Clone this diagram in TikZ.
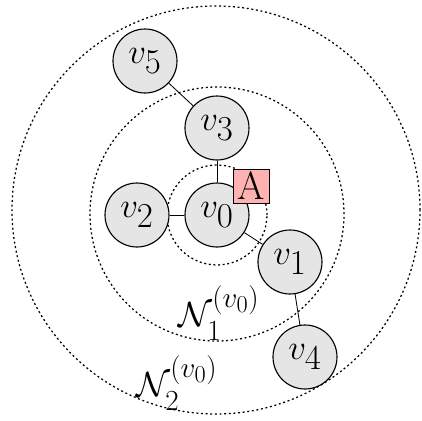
\documentclass[tikz,border=0pt]{standalone}
\usepackage{amsmath,amssymb,bm}
\usepackage{tikz}

\begin{document}
\begin{tikzpicture}[thick]
    \tikzstyle{vertex} = [circle, draw, fill=gray!20, minimum size=1.6cm, inner sep=0pt, text centered, font=\fontsize{34}{38}\selectfont]
    \tikzstyle{hood} = [line width=0.9pt, dash pattern=on 1.4pt off 1.9pt]
    \tikzstyle{agent} = [rectangle, draw, semithick, fill=red!30, minimum width=0.9cm, minimum height=0.85cm, inner sep=0pt, font=\fontsize{28}{32}\selectfont]
    \tikzstyle{link} = [semithick]
    \tikzstyle{hoodlabel} = [inner sep=0pt, font=\fontsize{32}{36}\selectfont]
    \useasboundingbox (-5.425,-5.15) rectangle (5.125,5.375);
    % neighbourhoods
    \draw[hood] (-0.025,0.125) circle (5.1cm);
    \draw[hood] (0,0.025) circle (3.175cm);
    \draw[hood] (0,0) circle (1.25cm);
    \node[vertex] (V0) at (0, 0) {$v_0$};
    \node[vertex] (V1) at (1.825, -1.175) {$v_1$};
    \node[vertex] (V2) at (-2.0, 0) {$v_2$};
    \node[vertex] (V3) at (0, 2.175) {$v_3$};
    \node[vertex] (V4) at (2.2, -3.55) {$v_4$};
    \node[vertex] (V5) at (-1.8, 3.85) {$v_5$};
    \draw[link] (V0) -- (V1);
    \draw[link] (V0) -- (V2);
    \draw[link] (V0) -- (V3);
    \draw[link] (V1) -- (V4);
    \draw[link] (V3) -- (V5);
    \node[agent] (A) at (0.85, 0.725) {A};
    \node[hoodlabel] (N1) at (0.05, -2.45) {$\mathcal{N}_1^{(v_0)}$};
    \node[hoodlabel] (N2) at (-1.0, -4.2) {$\mathcal{N}_2^{(v_0)}$};
\end{tikzpicture}
\end{document}
